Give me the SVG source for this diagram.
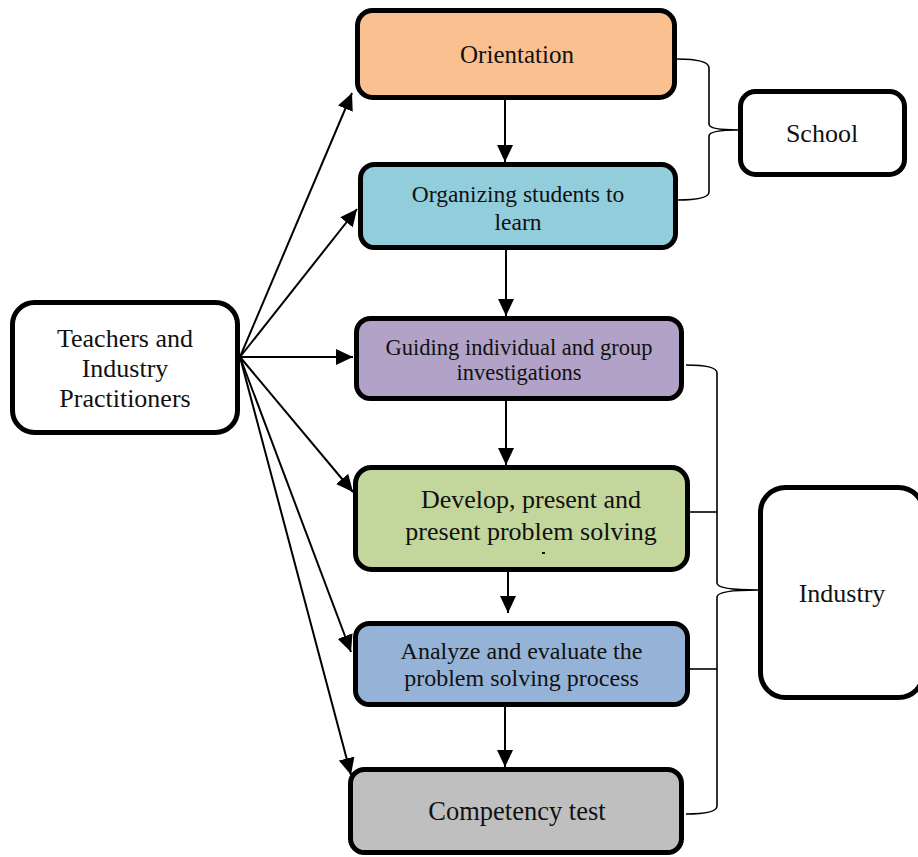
<svg xmlns="http://www.w3.org/2000/svg" width="918" height="857" viewBox="0 0 918 857">
<style>
.box{stroke:#000;stroke-width:5}
.t{font-family:"Liberation Serif","Times New Roman",serif;fill:#111;text-anchor:middle}
.c{stroke:#000;stroke-width:2;fill:none}
.b{stroke:#000;stroke-width:1.6;fill:none}
</style>
<defs>
<marker id="ah" markerUnits="userSpaceOnUse" markerWidth="18" markerHeight="16" viewBox="0 0 18 16" refX="17" refY="8" orient="auto">
<path d="M0,0 L17,8 L0,16 Z" fill="#000"/>
</marker>
</defs>
<rect width="918" height="857" fill="#fff"/>
<g id="connectors">
<line class="c" x1="505" y1="100" x2="505" y2="162" marker-end="url(#ah)"/>
<line class="c" x1="506" y1="250" x2="506" y2="316" marker-end="url(#ah)"/>
<line class="c" x1="506" y1="401" x2="506" y2="465" marker-end="url(#ah)"/>
<line class="c" x1="508" y1="572" x2="508" y2="613" marker-end="url(#ah)"/>
<line class="c" x1="505" y1="707" x2="505" y2="767" marker-end="url(#ah)"/>
<line class="c" x1="240" y1="357" x2="352" y2="93" marker-end="url(#ah)"/>
<line class="c" x1="240" y1="357" x2="357" y2="209" marker-end="url(#ah)"/>
<line class="c" x1="240" y1="357" x2="353" y2="357" marker-end="url(#ah)"/>
<line class="c" x1="240" y1="357" x2="353" y2="492" marker-end="url(#ah)"/>
<line class="c" x1="240" y1="357" x2="351" y2="652" marker-end="url(#ah)"/>
<line class="c" x1="240" y1="357" x2="351" y2="775" marker-end="url(#ah)"/>
<path class="b" d="M677,59 Q709,59 709,68 L709,124 Q709,130 738,130 Q709,130 709,136 L709,192 Q709,200 677,200"/>
<path class="b" d="M686,365 Q717,365 717,373 L717,583 Q717,590 758,590 Q717,590 717,597 L717,806 Q717,814 686,814"/>
<line class="b" x1="690" y1="512" x2="717" y2="512"/>
<line class="b" x1="690" y1="669" x2="717" y2="669"/>
</g>
<g id="orientation">
<rect class="box" x="357.5" y="10.5" width="317" height="87" rx="15" fill="#FAC090"/>
<text class="t" x="517" y="63" font-size="25">Orientation</text>
</g>
<g id="organizing">
<rect class="box" x="360.5" y="164.5" width="315" height="83" rx="14" fill="#92CDDC"/>
<text class="t" x="518" y="201.5" font-size="23.5">Organizing students to</text>
<text class="t" x="518" y="229.5" font-size="23.5">learn</text>
</g>
<g id="guiding">
<rect class="box" x="356.5" y="318.5" width="325" height="80" rx="14" fill="#B2A2C7"/>
<text class="t" x="519" y="355" font-size="22.5">Guiding individual and group</text>
<text class="t" x="519" y="380" font-size="22.5">investigations</text>
</g>
<g id="develop">
<rect class="box" x="355.5" y="467.5" width="332" height="102" rx="16" fill="#C3D69B"/>
<text class="t" x="531" y="508" font-size="26">Develop, present and</text>
<text class="t" x="531" y="540" font-size="26">present problem solving</text>
<rect x="542" y="552" width="3" height="2" fill="#111"/>
</g>
<g id="analyze">
<rect class="box" x="355.5" y="623.5" width="332" height="81" rx="14" fill="#95B3D7"/>
<text class="t" x="521.5" y="659" font-size="24">Analyze and evaluate the</text>
<text class="t" x="521.5" y="686" font-size="24">problem solving process</text>
</g>
<g id="competency">
<rect class="box" x="350.5" y="769.5" width="331" height="83" rx="14" fill="#BFBFBF"/>
<text class="t" x="517" y="820" font-size="26.5">Competency test</text>
</g>
<g id="teachers">
<rect class="box" x="12.5" y="302.5" width="225" height="130" rx="22" fill="#fff"/>
<text class="t" x="125" y="347" font-size="26">Teachers and</text>
<text class="t" x="125" y="377" font-size="26">Industry</text>
<text class="t" x="125" y="407" font-size="26">Practitioners</text>
</g>
<g id="school">
<rect class="box" x="740.5" y="91.5" width="164" height="83" rx="15" fill="#fff"/>
<text class="t" x="822" y="142" font-size="26">School</text>
</g>
<g id="industry">
<rect class="box" x="760.5" y="487.5" width="163" height="210" rx="25" fill="#fff"/>
<text class="t" x="842" y="602" font-size="26">Industry</text>
</g>
</svg>
